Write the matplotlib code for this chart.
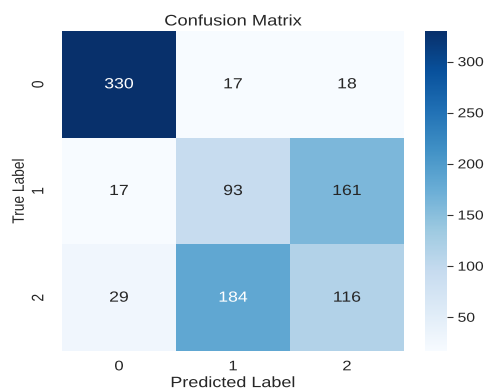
import matplotlib
matplotlib.use("Agg")
import matplotlib.pyplot as plt
import seaborn as sns
import numpy as np
from matplotlib.patheffects import AbstractPathEffect
from matplotlib.transforms import Affine2D

class_labels = ["0", "1", "2"]
row_true_0 = [330, 17, 18]
row_true_1 = [17, 93, 161]
row_true_2 = [29, 184, 116]


class WideText(AbstractPathEffect):
    """Draw text widened horizontally about a chosen anchor."""

    def __init__(self, sx=1.2, anchor="center"):
        super().__init__()
        self.sx = sx
        self.anchor = anchor

    def draw_path(self, renderer, gc, tpath, affine, rgbFace=None):
        ext = tpath.get_extents(affine)
        if self.anchor == "left":
            cx = ext.x0
        elif self.anchor == "right":
            cx = ext.x1
        else:
            cx = 0.5 * (ext.x0 + ext.x1)
        aff = affine + Affine2D().translate(-cx, 0).scale(self.sx, 1).translate(cx, 0)
        renderer.draw_path(gc, tpath, aff, rgbFace)


SX = 1.2
wide_c = [WideText(SX, "center")]
wide_l = [WideText(SX, "left")]

sns.set_theme(style="white")
plt.rcParams["font.family"] = ["Liberation Sans", "DejaVu Sans"]

cm = np.array([row_true_0, row_true_1, row_true_2])

fig = plt.figure(figsize=(4.86, 3.9), dpi=100)
ax = fig.add_axes([0.1276, 0.1, 0.7037, 0.8205])
cax = fig.add_axes([0.8745, 0.1, 0.045, 0.8205])

sns.heatmap(cm, annot=True, fmt="d", cmap="Blues", ax=ax, cbar_ax=cax,
            xticklabels=class_labels, yticklabels=class_labels,
            annot_kws={"fontsize": 10.6, "path_effects": wide_c})

ax.set_title("Confusion Matrix", fontsize=11, pad=4, path_effects=wide_c)
ax.set_xlabel("Predicted Label", fontsize=10.8, labelpad=2, path_effects=wide_c)
ax.set_ylabel("True Label", fontsize=9.9, labelpad=4, path_effects=wide_c)
ax.tick_params(axis="both", labelsize=10, length=0)
ax.tick_params(axis="x", pad=6)
ax.tick_params(axis="y", pad=12)
for t in ax.get_xticklabels():
    t.set_path_effects(wide_c)
for t in ax.get_yticklabels():
    t.set_rotation(90)
    t.set_va("center")
    t.set_path_effects(wide_c)

cax.tick_params(labelsize=9.4, length=4.3, width=0.8, color="#333333", pad=3.5)
for t in cax.get_yticklabels():
    t.set_path_effects(wide_l)

fig.savefig("out.png", dpi=100)
